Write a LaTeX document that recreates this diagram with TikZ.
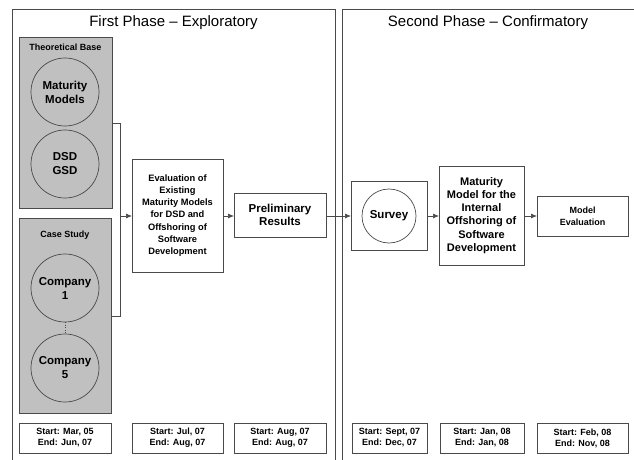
\documentclass[tikz,border=0pt]{standalone}
\usepackage{fontspec}
\setmainfont{Liberation Sans}
\usetikzlibrary{arrows.meta}
\definecolor{ln}{HTML}{4A4A4A}
\definecolor{gfill}{HTML}{C0C0C0}
\tikzset{
  every node/.style={inner sep=0pt, outer sep=0pt, align=center, text=black},
  frameline/.style={draw=ln, line width=0.9pt},
  graybox/.style={draw=ln, fill=gfill, line width=0.8pt},
  wbox/.style={draw=ln, fill=white, line width=0.8pt},
  circ/.style={draw=ln, circle, line width=0.7pt},
  conn/.style={draw=ln, line width=0.7pt},
  arr/.style={conn, -{Latex[length=6pt,width=5pt]}},
  datebox/.style={wbox, minimum height=30pt, font=\bfseries\fontsize{9}{11}\selectfont},
}
\begin{document}
\begin{tikzpicture}[x=1pt,y=-1pt]
\useasboundingbox (0,0) rectangle (634,460);
% frames
\draw[frameline] (12,460) -- (12,9) -- (335,9) -- (335,460);
\draw[frameline] (342,460) -- (342,9) -- (634,9);
\node[font=\fontsize{15}{17}\selectfont] (t1) at (173.5,23) {First Phase -- Exploratory};
\node[font=\fontsize{15}{17}\selectfont] (t2) at (488,23) {Second Phase -- Confirmatory};
% theoretical base
\node[graybox, minimum width=93pt, minimum height=171pt] (tb) at (65.5,122.5) {};
\node[font=\bfseries\fontsize{9}{11}\selectfont] (tbl) at (65.5,47) {Theoretical Base};
\node[circ, minimum size=68pt, font=\bfseries\fontsize{11.5}{14}\selectfont] (mm) at (65,92) {Maturity\\Models};
\node[circ, minimum size=68pt, font=\bfseries\fontsize{11.5}{14}\selectfont] (dsd) at (65,164) {DSD\\GSD};
% case study
\node[graybox, minimum width=92pt, minimum height=195pt] (cs) at (65,315.5) {};
\node[font=\bfseries\fontsize{9}{11}\selectfont] (csl) at (65,235) {Case Study};
\node[circ, minimum size=68pt, font=\bfseries\fontsize{11.5}{14}\selectfont] (c1) at (65,288) {Company\\1};
\node[circ, minimum size=68pt, font=\bfseries\fontsize{11.5}{14}\selectfont] (c5) at (65,368) {Company\\5};
\draw[draw=ln, line width=0.6pt, dotted] (c1.south) -- (c5.north);
% bracket
\coordinate (b1) at (120,123);
\coordinate (b2) at (120,316);
\coordinate (bm) at (120,216);
\draw[conn] (tb.east |- b1) -- (b1) -- (b2) -- (cs.east |- b2);
% evaluation
\node[wbox, minimum width=91pt, minimum height=113pt, font=\bfseries\fontsize{9.3}{12.3}\selectfont] (ev) at (177.5,215.5) {Evaluation of\\Existing\\Maturity Models\\for DSD and\\Offshoring of\\Software\\Development};
\draw[arr] (bm) -- (bm -| ev.west);
% preliminary
\node[wbox, minimum width=92pt, minimum height=44pt, font=\bfseries\fontsize{11.5}{13.5}\selectfont] (pr) at (280,215) {Preliminary\\Results};
\draw[arr] (ev.east |- bm) -- (pr.west |- bm);
% survey
\node[wbox, minimum width=76pt, minimum height=69pt] (sb) at (389,215.5) {};
\node[circ, minimum size=54pt, font=\bfseries\fontsize{11.5}{14}\selectfont] (sv) at (389,216) {Survey};
\draw[arr] (pr.east |- bm) -- (sb.west |- bm);
% maturity model
\node[wbox, minimum width=85pt, minimum height=99pt, font=\bfseries\fontsize{11}{13.3}\selectfont] (mmo) at (481.5,215.5) {Maturity\\Model for the\\Internal\\Offshoring of\\Software\\Development};
\draw[arr] (sb.east |- bm) -- (mmo.west |- bm);
% model evaluation
\node[wbox, minimum width=91pt, minimum height=40pt, font=\bfseries\fontsize{9}{12}\selectfont] (me) at (582.5,216) {Model\\Evaluation};
\draw[arr] (mmo.east |- bm) -- (me.west |- bm);
% dates
\node[datebox, minimum width=92pt] (d1) at (65,438) {Start: Mar, 05\\End: Jun, 07};
\node[datebox, minimum width=91pt] (d2) at (177.5,438) {Start: Jul, 07\\End: Aug, 07};
\node[datebox, minimum width=92pt] (d3) at (280,438) {Start: Aug, 07\\End: Aug, 07};
\node[datebox, minimum width=75pt] (d4) at (389.5,438) {Start: Sept, 07\\End: Dec, 07};
\node[datebox, minimum width=84pt] (d5) at (482,438) {Start: Jan, 08\\End: Jan, 08};
\node[datebox, minimum width=91pt] (d6) at (582.5,438) {Start: Feb, 08\\End: Nov, 08};
\end{tikzpicture}
\end{document}
